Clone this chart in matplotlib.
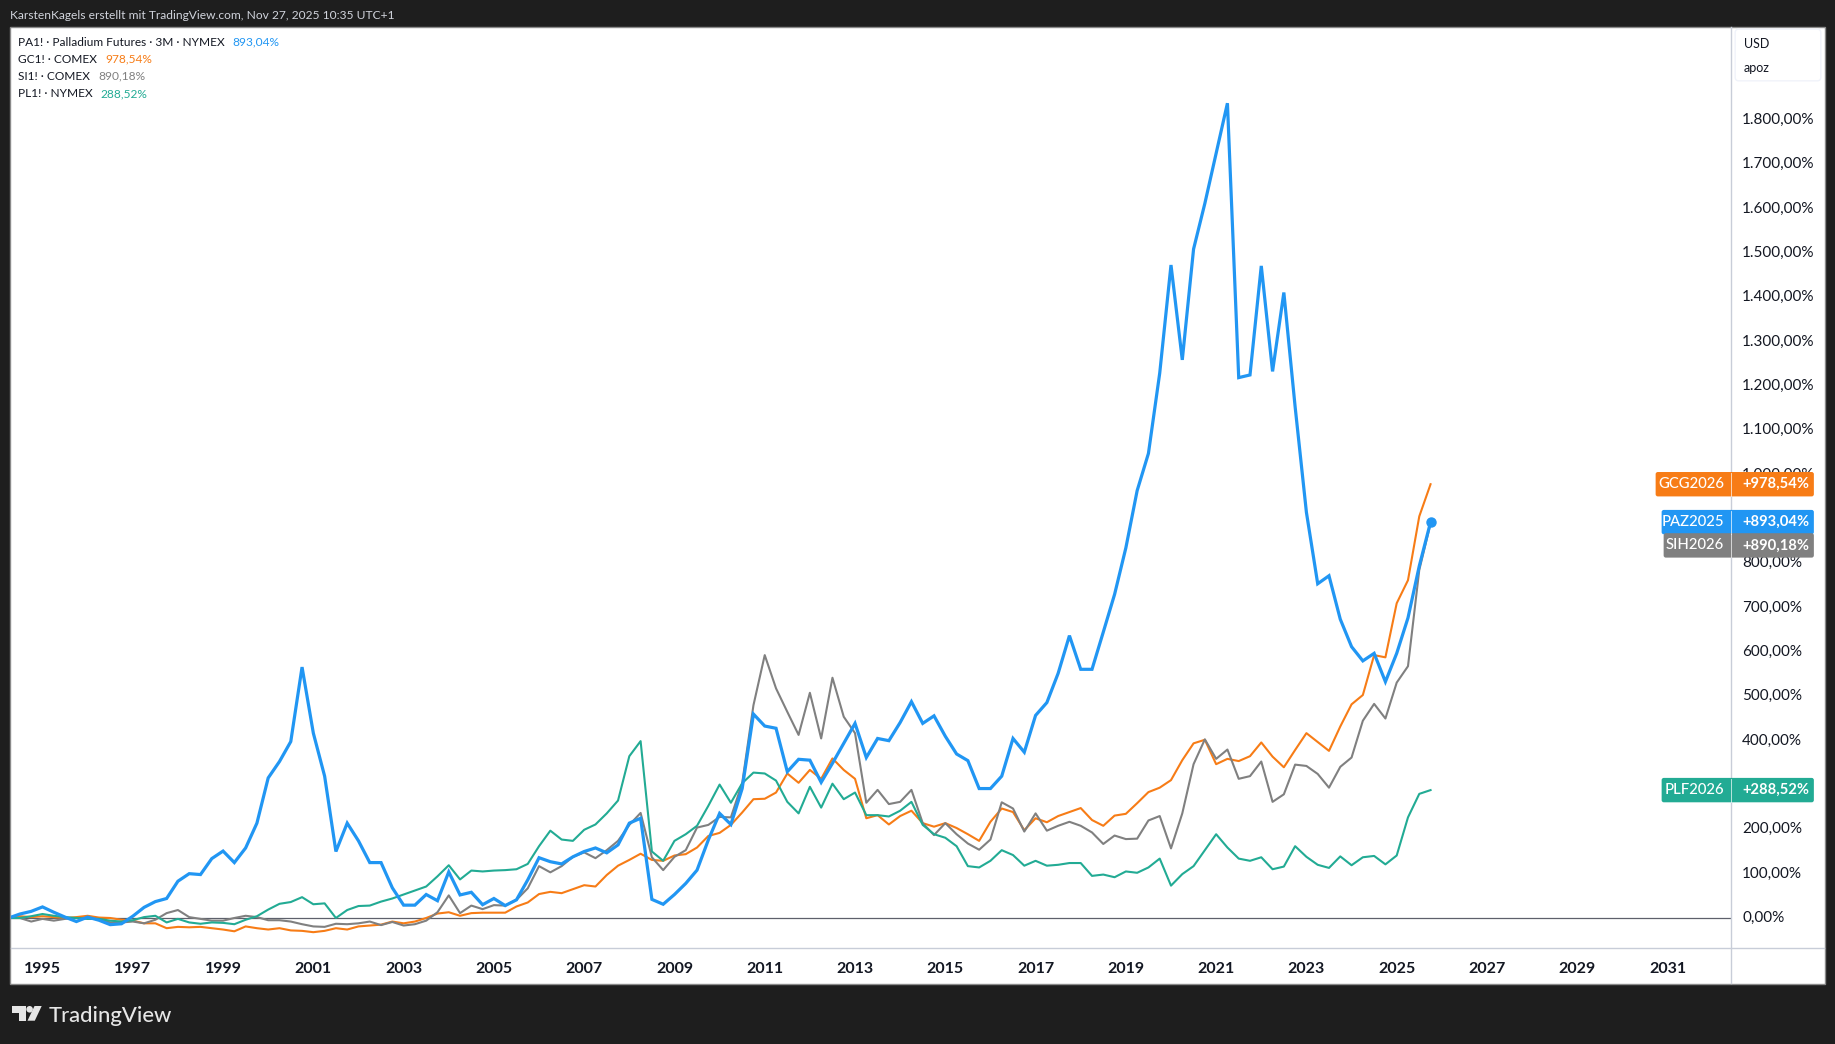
import numpy as np
import matplotlib
matplotlib.use('Agg')
import matplotlib.pyplot as plt
from matplotlib.patches import FancyBboxPatch, Polygon, Rectangle

W, H = 1835, 1044
BG = '#1e1e1e'
FONT = 'Lato'

# percent change per quarter, first point is 1994 Q2
palladium = [0, 9, 15, 25, 13, 2, -8, 2, -5, -15,
             -13, 4, 24, 37, 44, 83, 100, 98, 134, 151,
             125, 158, 214, 316, 353, 398, 566, 417, 320, 150,
             214, 174, 125, 125, 68, 29, 29, 53, 39, 104,
             52, 58, 30, 44, 28, 41, 86, 136, 127, 122,
             138, 150, 158, 147, 165, 214, 225, 42, 31, 53,
             78, 108, 176, 236, 211, 292, 460, 433, 428, 330,
             358, 356, 306, 349, 394, 439, 362, 405, 400, 441,
             488, 439, 456, 410, 370, 355, 292, 292, 320, 405,
             374, 457, 486, 552, 637, 561, 561, 645, 730, 835,
             964, 1048, 1229, 1473, 1259, 1509, 1612, 1725, 1838, 1219,
             1225, 1471, 1233, 1411, 1153, 915, 754, 772, 674, 612,
             580, 597, 533, 597, 677, 794, 893.04]
gold = [0, 4, 2, 4, 2, 0, 2, 5, 1, 0,
        -4, -6, -12, -12, -23, -20, -21, -20, -23, -26,
        -30, -19, -23, -26, -23, -28, -29, -32, -29, -23,
        -26, -19, -17, -15, -8, -12, -8, 0, 10, 13,
        5, 11, 12, 12, 12, 26, 35, 54, 59, 56,
        65, 74, 71, 97, 118, 131, 145, 131, 129, 141,
        144, 159, 185, 192, 210, 238, 268, 269, 283, 326,
        305, 334, 314, 360, 334, 314, 225, 232, 211, 230,
        242, 214, 206, 214, 203, 189, 174, 217, 247, 239,
        198, 225, 216, 230, 239, 248, 221, 208, 231, 235,
        259, 284, 294, 311, 356, 394, 402, 347, 359, 354,
        365, 396, 364, 340, 379, 417, 397, 377, 432, 482,
        503, 593, 588, 710, 762, 906, 978.54]
silver = [0, 0, -8, -2, -6, -2, 0, -1, -2, -10,
          -10, -8, -12, -4, 11, 18, 2, -2, -6, -6,
          0, 5, 2, -5, -5, -8, -14, -19, -20, -13,
          -14, -12, -8, -16, -9, -17, -14, -6, 13, 51,
          11, 28, 20, 29, 28, 41, 67, 117, 103, 117,
          138, 148, 135, 153, 174, 210, 237, 137, 108, 138,
          153, 204, 210, 228, 227, 304, 480, 593, 518, 465,
          413, 508, 405, 542, 454, 417, 260, 289, 257, 262,
          289, 214, 187, 214, 189, 168, 154, 177, 261, 247,
          195, 236, 197, 208, 217, 208, 193, 167, 186, 178,
          179, 220, 230, 157, 236, 347, 403, 359, 380, 314,
          320, 353, 262, 279, 346, 343, 325, 294, 341, 362,
          445, 483, 450, 531, 568, 785, 890.18]
platinum = [0, 0, 4, 9, 5, 2, 0, -2, -2, -6,
            -8, -5, 2, 5, -10, -2, -10, -13, -10, -11,
            -14, -4, 4, 19, 32, 36, 47, 31, 33, 0,
            18, 27, 28, 37, 44, 53, 62, 71, 94, 119,
            87, 107, 105, 107, 108, 110, 122, 162, 197, 177,
            174, 199, 211, 236, 265, 365, 399, 150, 129, 174,
            189, 208, 253, 301, 260, 304, 328, 326, 310, 262,
            236, 296, 249, 303, 268, 283, 232, 232, 229, 242,
            262, 210, 189, 181, 162, 117, 114, 129, 153, 142,
            118, 129, 118, 120, 124, 124, 95, 98, 92, 105,
            102, 114, 134, 73, 99, 117, 153, 189, 159, 134,
            129, 137, 110, 116, 162, 138, 120, 113, 139, 119,
            137, 140, 121, 141, 227, 280, 288.52]

years = np.arange(len(palladium)) / 4 + 1994.25

y_ticks = list(range(0, 1900, 100))
y_labels = ['%s,00%%' % format(v, ',').replace(',', '.') for v in y_ticks]
x_ticks = list(range(1995, 2033, 2))

legend_rows = [('PA1! · Palladium Futures · 3M · NYMEX', '893,04%', '#2196f3'),
               ('GC1! · COMEX', '978,54%', '#f77c16'),
               ('SI1! · COMEX', '890,18%', '#808080'),
               ('PL1! · NYMEX', '288,52%', '#22ab94')]

# last value sets the tag height, silver is pushed down so it clears palladium
price_tags = [('GCG2026', '+978,54%', '#f77c16', 978.54, 75),
              ('PAZ2025', '+893,04%', '#2196f3', 893.04, 69),
              ('SIH2026', '+890,18%', '#808080', 840.5, 67),
              ('PLF2026', '+288,52%', '#22ab94', 288.52, 69)]


def fx(px):
    return px / W


def fy(px):
    return 1 - px / H


fig = plt.figure(figsize=(W / 100, H / 100), dpi=100, facecolor=BG)

# white panel with thin border, behind the axes
fig.patches.append(Rectangle((fx(10), fy(983.5)), fx(1814.5), (983.5 - 27) / H, transform=fig.transFigure,
                             facecolor='white', edgecolor='#8a8a8a', linewidth=1, zorder=-1))

# plot area runs from 10.5 to 1731 px across and 27 to 948 px down
ax = fig.add_axes([fx(10.5), fy(948), (1731 - 10.5) / W, (948 - 27) / H], facecolor='none')
ax.set_xlim(1995 + (10.5 - 42.5) / 45.14, 1995 + (1731 - 42.5) / 45.14)
ax.set_ylim((918 - 948) / 0.4433, (918 - 27) / 0.4433)

ax.axhline(0, color='#5d606b', lw=0.9, zorder=1)
ax.plot(years, gold, color='#f77c16', lw=1.5, zorder=2)
ax.plot(years, silver, color='#808080', lw=1.5, zorder=3)
ax.plot(years, platinum, color='#22ab94', lw=1.5, zorder=3)
ax.plot(years, palladium, color='#2196f3', lw=2.3, zorder=4, solid_joinstyle='miter')
ax.plot(years[-1], palladium[-1], 'o', color='#2196f3', ms=6.5, zorder=5)

for s in ['top', 'left', 'right', 'bottom']:
    ax.spines[s].set_visible(False)

ax.yaxis.tick_right()
ax.set_yticks(y_ticks)
ax.set_yticklabels(y_labels, fontsize=11, color='#131722', family=FONT, va='center')
ax.tick_params(axis='y', length=0, pad=8)
ax.set_xticks(x_ticks)
ax.set_xticklabels(x_ticks, fontsize=11.5, color='#131722', family=FONT, fontweight='bold')
ax.tick_params(axis='x', length=0, pad=10)

# price scale divider and time axis line
fig.add_artist(plt.Line2D([fx(1731), fx(1731)], [fy(27), fy(983)], color='#c8cdd8', lw=1))
fig.add_artist(plt.Line2D([fx(10.5), fx(1824)], [fy(948), fy(948)], color='#c8cdd8', lw=1))
fig.patches.append(FancyBboxPatch((fx(1737), fy(79)), fx(82), 48 / H,
                                  boxstyle='round,pad=0.001,rounding_size=0.002', mutation_aspect=W / H,
                                  transform=fig.transFigure, facecolor='white', edgecolor='#f0f3fa', lw=1, zorder=1))
fig.text(fx(1744), fy(44), 'USD', fontsize=9, color='#131722', family=FONT, va='center')
fig.text(fx(1744), fy(67.5), 'apoz', fontsize=9, color='#131722', family=FONT, va='center')

# price tags sit on the last value of each series
trans = ax.transData
for name, val, col, v, width in price_tags:
    yc = trans.transform((0, v))[1] / H
    left = 1731 - width
    fig.patches.append(FancyBboxPatch((fx(left) + 0.001, yc - 10 / H), (1813.5 - left) / W - 0.002, 20 / H,
                                      boxstyle='round,pad=0.0012,rounding_size=0.0012', mutation_aspect=W / H,
                                      transform=fig.transFigure, facecolor=col, edgecolor='none', zorder=6))
    fig.text(fx(1724), yc, name, color='white', fontsize=10.7, family=FONT, fontweight='medium', ha='right',
             va='center', zorder=7)
    fig.text(fx(1742), yc, val, color='white', fontsize=10.6, family=FONT, fontweight='bold', ha='left',
             va='center', zorder=7)
    fig.add_artist(plt.Line2D([fx(1731), fx(1731)], [yc - 11.5 / H, yc + 11.5 / H], color='white', lw=0.6,
                              alpha=0.8, zorder=8))

# legend
renderer = fig.canvas.get_renderer()
y = 42
for label, pct, col in legend_rows:
    t = fig.text(fx(18), fy(y), label, fontsize=8.6, color='#131722', family=FONT, va='center')
    end = t.get_window_extent(renderer).x1
    fig.text((end + 8) / W, fy(y), pct, fontsize=8.6, color=col, family=FONT, va='center')
    y += 17.2

# header and footer
fig.text(fx(10), fy(15.5), 'KarstenKagels erstellt mit TradingView.com, Nov 27, 2025 10:35 UTC+1', fontsize=8.65,
         color='#d1d4dc', family=FONT, va='center')

logo = [[(12.3, 1006), (25.7, 1006), (25.7, 1020.7), (19, 1020.7), (19, 1012.7), (12.3, 1012.7)],
        [(34.5, 1006), (41.7, 1006), (34.8, 1020.7), (27.5, 1020.7)]]
for pts in logo:
    fig.patches.append(Polygon([(fx(a), fy(b)) for a, b in pts], closed=True, transform=fig.transFigure,
                               facecolor='#e6e6e6', edgecolor='none'))
fig.patches.append(plt.Circle((29.6, H - 1009.3), 3.3, transform=None, facecolor='#e6e6e6', edgecolor='none'))
fig.text(fx(49), fy(1015.5), 'TradingView', fontsize=15.8, color='#e6e6e6', family=FONT, fontweight='medium',
         va='center')

fig.savefig('out.png', dpi=100, facecolor=BG)
